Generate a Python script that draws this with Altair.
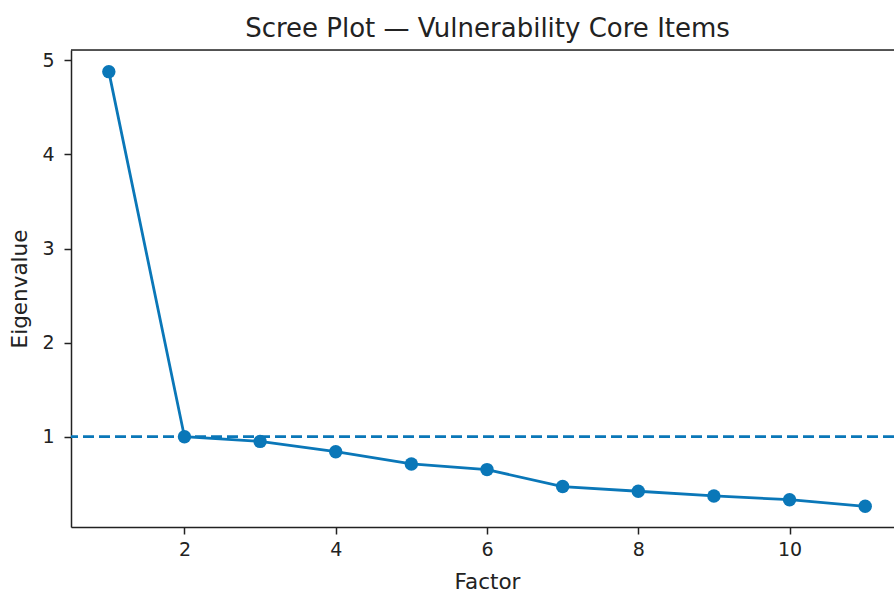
import altair as alt
import pandas as pd

factors = [1, 2, 3, 4, 5, 6, 7, 8, 9, 10, 11]
eigenvalues = [4.88, 1.00, 0.95, 0.84, 0.71, 0.65, 0.47, 0.42, 0.37, 0.33, 0.26]
threshold = [1.0]
x_ticks = [2, 4, 6, 8, 10]
y_ticks = [1, 2, 3, 4, 5]

COLOR = "#0A77B8"
W = 823
H = 477

df = pd.DataFrame({"Factor": factors, "Eigenvalue": eigenvalues})
df_thr = pd.DataFrame({"y": threshold})

xscale = alt.Scale(domain=[0.5, 11.381], nice=False, zero=False)
yscale = alt.Scale(domain=[0.04, 5.11], nice=False, zero=False)

axis_common = dict(
    labelFont="DejaVu Sans", labelFontSize=19, labelColor="#222222",
    titleFont="DejaVu Sans", titleFontSize=21.5, titleColor="#222222", titleFontWeight="normal",
    domainColor="#222222", domainWidth=1.5, tickColor="#222222", tickSize=7, tickWidth=1.5,
    grid=False, format="d",
)

xenc = alt.X("Factor:Q", scale=xscale,
             axis=alt.Axis(values=x_ticks, title="Factor", titleX=416, titleY=55,
                           titleBaseline="middle", titleAlign="center", labelPadding=6,
                           **axis_common))
yenc = alt.Y("Eigenvalue:Q", scale=yscale,
             axis=alt.Axis(values=y_ticks, title="Eigenvalue", titleX=-51, titleY=H / 2,
                           titleBaseline="middle", titleAlign="center", titleAngle=270,
                           labelPadding=10, **axis_common))

line = alt.Chart(df).mark_line(color=COLOR, strokeWidth=2.8).encode(x=xenc, y=yenc)
pts = alt.Chart(df).mark_circle(color=COLOR, size=180, opacity=1).encode(x=xenc, y=yenc)
thr = alt.Chart(df_thr).mark_rule(color=COLOR, strokeWidth=2.8, strokeDash=[11, 5]).encode(
    y=alt.Y("y:Q", scale=yscale)
)
top = alt.Chart(df_thr).mark_rule(color="#222222", strokeWidth=1.5).encode(
    x=alt.value(0), x2=alt.value(W), y=alt.value(0)
)

chart = alt.layer(thr, line, pts, top).properties(
    width=W, height=H,
    title=alt.TitleParams("Scree Plot — Vulnerability Core Items", font="DejaVu Sans",
                          fontSize=26, fontWeight="normal", color="#222222",
                          anchor="middle", dx=5, dy=27, offset=13, baseline="alphabetic"),
    padding={"left": 71, "top": 50, "right": 0, "bottom": 65},
    autosize=alt.AutoSizeParams(type="none"),
).configure_view(stroke=None).configure(background="white")

chart.save("out.html", embed_options={"renderer": "svg", "actions": False})
